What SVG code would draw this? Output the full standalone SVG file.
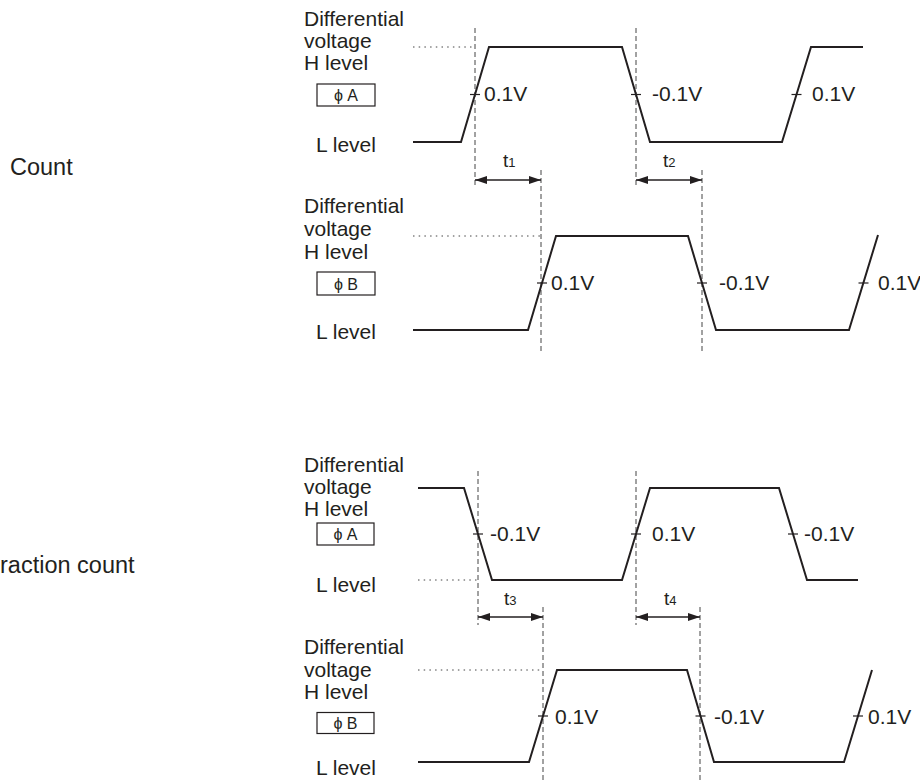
<svg xmlns="http://www.w3.org/2000/svg" width="920" height="783" viewBox="0 0 920 783">
<defs>
<style>
text{font-family:"Liberation Sans",Arial,sans-serif;fill:#231f20}
.lbl{font-size:21px}
.mode{font-size:23.5px}
.v{font-size:21px}
.phi{font-size:16px}
.t{font-size:19px}
.sub{font-size:13px}
.wave{fill:none;stroke:#231f20;stroke-width:2;stroke-linejoin:miter}
.tick{stroke:#231f20;stroke-width:1.2}
.dash{stroke:#444;stroke-width:1;stroke-dasharray:5,3;fill:none}
.dot{stroke:#444;stroke-width:1;stroke-dasharray:1.5,4.2;fill:none}
.box{fill:#fff;stroke:#231f20;stroke-width:1.2}
.arr{stroke:#231f20;stroke-width:1.5;fill:none}
</style>
<marker id="ah" viewBox="0 0 12 8" refX="12" refY="4" markerWidth="12" markerHeight="8" markerUnits="userSpaceOnUse" orient="auto-start-reverse">
<path d="M0,0 L12,4 L0,8 z" fill="#231f20"/>
</marker>
</defs>
<rect width="920" height="783" fill="#fff"/>

<g id="mode-labels">
<text class="mode" x="10" y="175">Count</text>
<text class="mode" x="0" y="573">raction count</text>
</g>

<g id="count-phiA-labels">
<text class="lbl" x="304" y="26">Differential</text>
<text class="lbl" x="304" y="48">voltage</text>
<text class="lbl" x="304" y="70">H level</text>
<rect class="box" x="317" y="84" width="58" height="22"/>
<text class="phi" x="346" y="100.5" text-anchor="middle">ϕ A</text>
<text class="lbl" x="316" y="152">L level</text>
</g>
<g id="count-phiB-labels">
<text class="lbl" x="304" y="213">Differential</text>
<text class="lbl" x="304" y="236">voltage</text>
<text class="lbl" x="304" y="259">H level</text>
<rect class="box" x="317" y="272" width="58" height="23"/>
<text class="phi" x="346" y="289.5" text-anchor="middle">ϕ B</text>
<text class="lbl" x="316" y="339">L level</text>
</g>
<g id="contr-phiA-labels">
<text class="lbl" x="304" y="472">Differential</text>
<text class="lbl" x="304" y="494">voltage</text>
<text class="lbl" x="304" y="516">H level</text>
<rect class="box" x="317" y="523" width="57" height="22"/>
<text class="phi" x="345.5" y="539.5" text-anchor="middle">ϕ A</text>
<text class="lbl" x="316" y="592">L level</text>
</g>
<g id="contr-phiB-labels">
<text class="lbl" x="304" y="654">Differential</text>
<text class="lbl" x="304" y="677">voltage</text>
<text class="lbl" x="304" y="699">H level</text>
<rect class="box" x="317" y="712.5" width="57" height="21"/>
<text class="phi" x="345.5" y="728.5" text-anchor="middle">ϕ B</text>
<text class="lbl" x="316" y="775">L level</text>
</g>

<g id="guides">
<line class="dot" x1="413" y1="47" x2="475" y2="47"/>
<line class="dot" x1="413" y1="236" x2="541" y2="236"/>
<line class="dot" x1="418" y1="580" x2="478" y2="580"/>
<line class="dot" x1="418" y1="670" x2="543" y2="670"/>
<line class="dash" x1="475" y1="28" x2="475" y2="187"/>
<line class="dash" x1="541" y1="170" x2="541" y2="353"/>
<line class="dash" x1="636" y1="28" x2="636" y2="187"/>
<line class="dash" x1="702" y1="170" x2="702" y2="353"/>
<line class="dash" x1="478" y1="471" x2="478" y2="625"/>
<line class="dash" x1="543" y1="607" x2="543" y2="783"/>
<line class="dash" x1="636" y1="471" x2="636" y2="625"/>
<line class="dash" x1="700" y1="607" x2="700" y2="783"/>
</g>

<g id="wave-count-A">
<path class="wave" d="M413,142 L461,142 L489,47 L622,47 L650,142 L782,142 L811,47 L863,47"/>
<line class="tick" x1="470" y1="94.5" x2="480" y2="94.5"/>
<line class="tick" x1="631" y1="94.5" x2="641" y2="94.5"/>
<line class="tick" x1="791.5" y1="94.5" x2="801.5" y2="94.5"/>
<text class="v" x="484" y="101">0.1V</text>
<text class="v" x="652" y="101">-0.1V</text>
<text class="v" x="812" y="101">0.1V</text>
</g>
<g id="wave-count-B">
<path class="wave" d="M413,330 L528,330 L556,236 L688,236 L716,330 L849,330 L878,235"/>
<line class="tick" x1="537" y1="283" x2="547" y2="283"/>
<line class="tick" x1="697" y1="283" x2="707" y2="283"/>
<line class="tick" x1="858.5" y1="283" x2="868.5" y2="283"/>
<text class="v" x="551" y="290">0.1V</text>
<text class="v" x="719" y="290">-0.1V</text>
<text class="v" x="878" y="290">0.1V</text>
</g>
<g id="wave-contr-A">
<path class="wave" d="M418,488 L464,488 L492,580 L622,580 L650,488 L779,488 L807,580 L858,580"/>
<line class="tick" x1="473" y1="534" x2="483" y2="534"/>
<line class="tick" x1="631" y1="534" x2="641" y2="534"/>
<line class="tick" x1="788" y1="534" x2="798" y2="534"/>
<text class="v" x="490" y="541">-0.1V</text>
<text class="v" x="652" y="541">0.1V</text>
<text class="v" x="804" y="541">-0.1V</text>
</g>
<g id="wave-contr-B">
<path class="wave" d="M418,762 L529,762 L557,670 L687,670 L714,762 L844,762 L872,670"/>
<line class="tick" x1="538" y1="716" x2="548" y2="716"/>
<line class="tick" x1="695.5" y1="716" x2="705.5" y2="716"/>
<line class="tick" x1="853" y1="716" x2="863" y2="716"/>
<text class="v" x="555" y="724">0.1V</text>
<text class="v" x="714" y="724">-0.1V</text>
<text class="v" x="868" y="724">0.1V</text>
</g>

<g id="connectors">
<line class="arr" x1="475" y1="180" x2="541" y2="180" marker-start="url(#ah)" marker-end="url(#ah)"/>
<line class="arr" x1="636" y1="180" x2="702" y2="180" marker-start="url(#ah)" marker-end="url(#ah)"/>
<line class="arr" x1="478" y1="617" x2="543" y2="617" marker-start="url(#ah)" marker-end="url(#ah)"/>
<line class="arr" x1="636" y1="617" x2="700" y2="617" marker-start="url(#ah)" marker-end="url(#ah)"/>
</g>
<g id="time-labels">
<text class="t" x="503" y="167">t<tspan class="sub">1</tspan></text>
<text class="t" x="663" y="167">t<tspan class="sub">2</tspan></text>
<text class="t" x="504" y="605">t<tspan class="sub">3</tspan></text>
<text class="t" x="664" y="605">t<tspan class="sub">4</tspan></text>
</g>
</svg>
